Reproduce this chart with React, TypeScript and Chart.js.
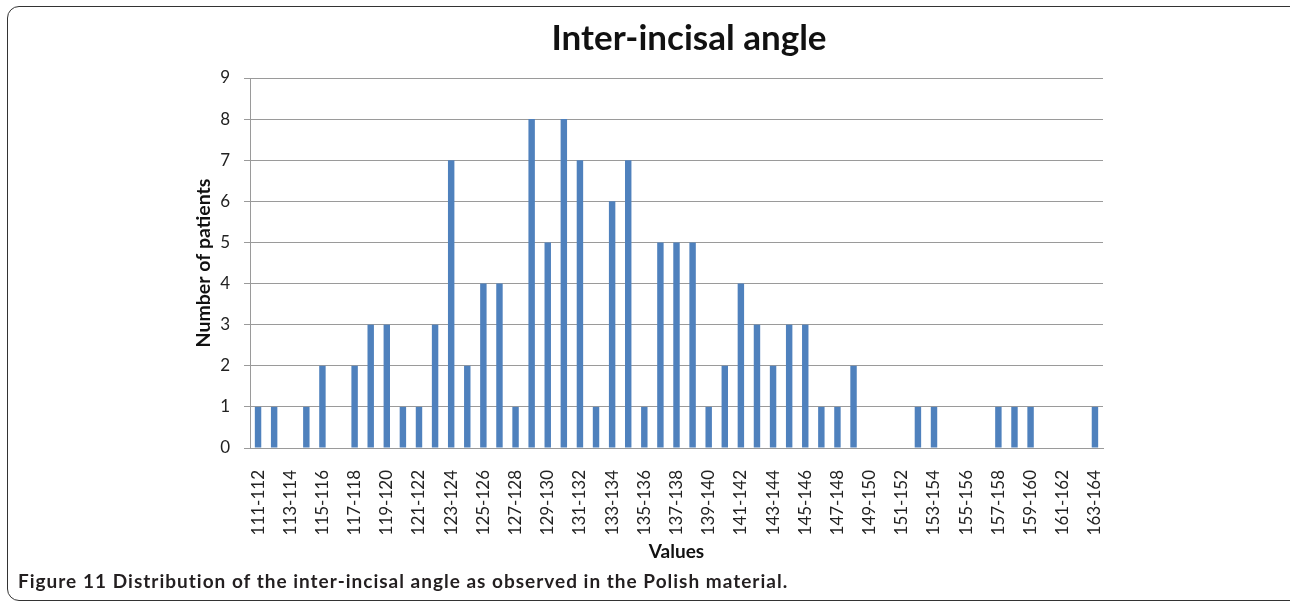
import React, { useEffect, useRef } from "react";
import { Chart, registerables } from "chart.js";

Chart.register(...registerables);

const categories: string[] = [
  "111-112", "112-113", "113-114", "114-115", "115-116", "116-117", "117-118", "118-119",
  "119-120", "120-121", "121-122", "122-123", "123-124", "124-125", "125-126", "126-127",
  "127-128", "128-129", "129-130", "130-131", "131-132", "132-133", "133-134", "134-135",
  "135-136", "136-137", "137-138", "138-139", "139-140", "140-141", "141-142", "142-143",
  "143-144", "144-145", "145-146", "146-147", "147-148", "148-149", "149-150", "150-151",
  "151-152", "152-153", "153-154", "154-155", "155-156", "156-157", "157-158", "158-159",
  "159-160", "160-161", "161-162", "162-163", "163-164",
];

const patients: number[] = [
  1, 1, 0, 1, 2, 0, 2, 3, 3, 1, 1, 3, 7, 2, 4, 4,
  1, 8, 5, 8, 7, 1, 6, 7, 1, 5, 5, 5, 1, 2, 4, 3,
  2, 3, 3, 1, 1, 2, 0, 0, 0, 1, 1, 0, 0, 0, 1, 1,
  1, 0, 0, 0, 1,
];

const yTicks: number[] = [0, 1, 2, 3, 4, 5, 6, 7, 8, 9];

const chartTitle = "Inter-incisal angle";
const yTitle = "Number of patients";
const xTitle = "Values";
const captionLead = "Figure 11";
const captionText = "Distribution of the inter-incisal angle as observed in the Polish material.";

const FONT = "Lato, 'Open Sans', 'DejaVu Sans', sans-serif";

export default function App() {
  const canvasRef = useRef<HTMLCanvasElement | null>(null);

  useEffect(() => {
    const canvas = canvasRef.current;
    if (!canvas) return;
    const chart = new Chart(canvas, {
      type: "bar",
      data: {
        labels: categories,
        datasets: [
          {
            label: yTitle,
            data: patients,
            backgroundColor: "#4F81BD",
            borderWidth: 0,
            categoryPercentage: 1,
            barPercentage: 0.4,
          },
        ],
      },
      options: {
        responsive: false,
        animation: false,
        devicePixelRatio: 1,
        layout: { padding: { left: 190, right: 187, top: 78, bottom: 41 } },
        plugins: {
          legend: { display: false },
          title: { display: false },
          tooltip: { enabled: false },
        },
        scales: {
          x: {
            offset: true,
            grid: { display: false },
            border: { display: true, color: "#9a9a9a", width: 1 },
            ticks: {
              autoSkip: false,
              minRotation: 90,
              maxRotation: 90,
              padding: 14,
              color: "#222222",
              font: { family: FONT, size: 17 },
              callback: (_v: any, i: number) => (i % 2 === 0 ? categories[i] : ""),
            },
            title: {
              display: true,
              text: xTitle,
              color: "#111111",
              font: { family: FONT, size: 19, weight: "bold" },
              padding: { top: 0, bottom: 0 },
            },
            afterFit: (scale: any) => {
              scale.height = 115;
            },
          },
          y: {
            min: 0,
            max: 9,
            grid: { color: "#9a9a9a", lineWidth: 1, tickLength: 6, drawTicks: true },
            border: { display: true, color: "#9a9a9a", width: 1 },
            afterBuildTicks: (scale: any) => {
              scale.ticks = yTicks.map((v) => ({ value: v }));
            },
            ticks: {
              padding: 14,
              color: "#222222",
              font: { family: FONT, size: 17 },
            },
            title: {
              display: true,
              text: yTitle,
              color: "#111111",
              font: { family: FONT, size: 19.5, weight: "bold" },
              padding: { top: 2, bottom: 2 },
            },
            afterFit: (scale: any) => {
              scale.width = 60;
            },
          },
        },
      },
    });
    return () => chart.destroy();
  }, []);

  return (
    <div style={{ position: "absolute", left: 0, top: 0, width: 1290, height: 604, overflow: "hidden", background: "#ffffff" }}>
      <div
        style={{
          position: "absolute",
          left: 7,
          top: 6,
          width: 1300,
          height: 595,
          border: "1.5px solid #333333",
          borderRadius: 12,
          boxSizing: "border-box",
        }}
      />
      <canvas ref={canvasRef} width={1290} height={604} style={{ position: "absolute", left: 0, top: 0, width: 1290, height: 604 }} />
      <div
        style={{
          position: "absolute",
          left: 439,
          top: 15,
          width: 500,
          textAlign: "center",
          fontFamily: FONT,
          fontWeight: 700,
          fontSize: 35,
          lineHeight: "42px",
          color: "#111111",
        }}
      >
        {chartTitle}
      </div>
      <div
        style={{
          position: "absolute",
          left: 18,
          top: 569,
          whiteSpace: "nowrap",
          fontFamily: FONT,
          fontSize: 19,
          letterSpacing: "1px",
          lineHeight: "24px",
          color: "#231f20",
        }}
      >
        <span style={{ fontWeight: 700 }}>{captionLead}</span>{" "}
        <span style={{ fontWeight: 700 }}>{captionText}</span>
      </div>
    </div>
  );
}
